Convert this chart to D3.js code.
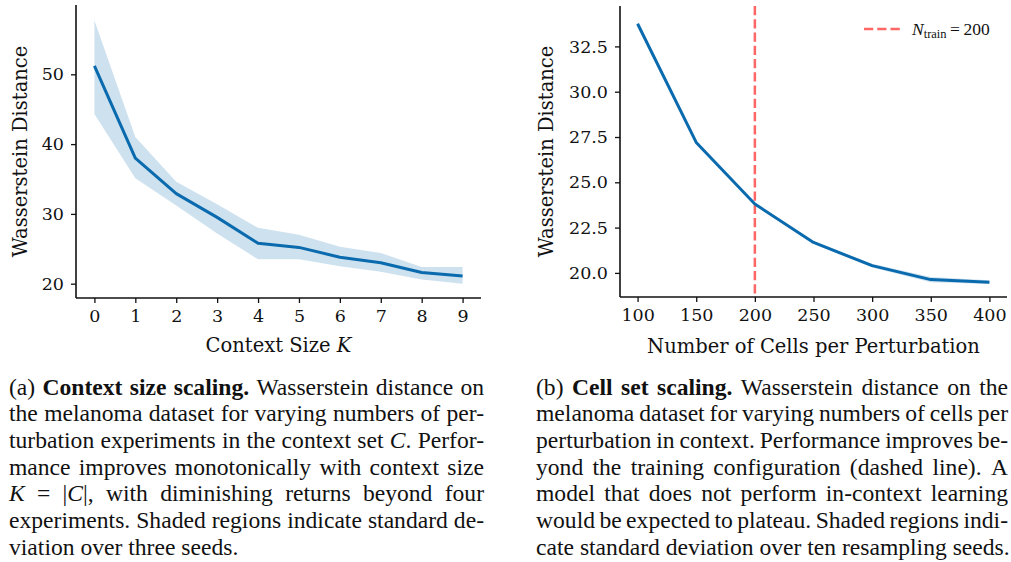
<!DOCTYPE html>
<html>
<head>
<meta charset="utf-8">
<script src="https://cdn.jsdelivr.net/npm/d3@7"></script>
<style>
  html, body { margin: 0; padding: 0; background: #fff; }
  svg { display: block; }
</style>
</head>
<body>
<svg id="chart" width="1011" height="562"></svg>
<script>
// ---------------- DATA ----------------
const contextSizes = [0, 1, 2, 3, 4, 5, 6, 7, 8, 9];
const contextMean  = [51.2, 38.0, 32.9, 29.5, 25.8, 25.2, 23.8, 23.0, 21.6, 21.1];
const contextUpper = [57.7, 41.0, 34.6, 31.4, 28.0, 27.0, 25.3, 24.4, 22.4, 22.4];
const contextLower = [44.3, 35.1, 31.2, 27.2, 23.5, 23.5, 22.5, 21.7, 20.6, 20.0];
const contextYTicks = [20, 30, 40, 50];

const cellCounts = [100, 150, 200, 250, 300, 350, 400];
const cellMean   = [33.75, 27.2, 23.8, 21.68, 20.4, 19.63, 19.49];
const cellStd    = [0.05, 0.05, 0.05, 0.06, 0.10, 0.14, 0.10];
const cellYTicks = [20.0, 22.5, 25.0, 27.5, 30.0, 32.5];
const nTrain = 200;

const captionA = [
  "(a) *Context* *size* *scaling.* Wasserstein distance on",
  "the melanoma dataset for varying numbers of per-",
  "turbation experiments in the context set _C_. Perfor-",
  "mance improves monotonically with context size",
  "_K_ = |_C_|, with diminishing returns beyond four",
  "experiments. Shaded regions indicate standard de-",
  "viation over three seeds."
];
const captionB = [
  "(b) *Cell* *set* *scaling.* Wasserstein distance on the",
  "melanoma dataset for varying numbers of cells per",
  "perturbation in context. Performance improves be-",
  "yond the training configuration (dashed line). A",
  "model that does not perform in-context learning",
  "would be expected to plateau. Shaded regions indi-",
  "cate standard deviation over ten resampling seeds."
];

// ---------------- STYLE ----------------
const lineColor = "#0a6aae";
const axisFont = "'DejaVu Serif', serif";
const capFont = "'Liberation Serif', 'Times New Roman', serif";
const tickFontSize = 17.5;
const labelFontSize = 19.5;

const svg = d3.select("#chart");

function drawPanel(opts) {
  const g = svg.append("g");
  const x = d3.scaleLinear().domain(opts.xDomain).range([opts.left, opts.right]);
  const y = d3.scaleLinear().domain(opts.yDomain).range([opts.bottom, opts.top]);

  const band = d3.area()
    .x((d, i) => x(opts.xs[i]))
    .y0((d, i) => y(opts.lower[i]))
    .y1((d, i) => y(opts.upper[i]));
  g.append("path").datum(opts.xs).attr("d", band)
    .attr("fill", lineColor).attr("fill-opacity", 0.2).attr("stroke", "none");

  if (opts.extra) opts.extra(g, x, y);

  const line = d3.line().x((d, i) => x(opts.xs[i])).y((d, i) => y(opts.mean[i]));
  g.append("path").datum(opts.xs).attr("d", line)
    .attr("fill", "none").attr("stroke", lineColor).attr("stroke-width", 3)
    .attr("stroke-linejoin", "round");

  const xAxis = d3.axisBottom(x).tickValues(opts.xTicks).tickSize(5).tickPadding(7)
    .tickFormat(opts.xFormat || d3.format("d"));
  const gx = g.append("g").attr("transform", `translate(0,${opts.bottom})`).call(xAxis);
  const yAxis = d3.axisLeft(y).tickValues(opts.yTicks).tickSize(5).tickPadding(7)
    .tickFormat(opts.yFormat);
  const gy = g.append("g").attr("transform", `translate(${opts.left},0)`).call(yAxis);

  [gx, gy].forEach(a => {
    a.select(".domain").attr("stroke", "#111").attr("stroke-width", 1.6);
    a.selectAll(".tick line").attr("stroke", "#111").attr("stroke-width", 1.3);
    a.selectAll(".tick text").attr("fill", "#111")
      .style("font-family", axisFont).style("font-size", tickFontSize + "px");
  });
  gx.select(".domain").attr("d", `M${opts.left},0H${opts.right}`);
  gy.select(".domain").attr("d", `M0,${opts.bottom}V${opts.top}`);

  const xl = g.append("text")
    .attr("x", (opts.left + opts.right) / 2 + (opts.xLabelShift || 0))
    .attr("y", opts.xLabelY)
    .attr("text-anchor", "middle")
    .style("font-family", axisFont).style("font-size", labelFontSize + "px")
    .attr("fill", "#111");
  opts.xLabel(xl);

  g.append("text")
    .attr("transform", `translate(${opts.yLabelX},${(opts.top + opts.bottom) / 2}) rotate(-90)`)
    .attr("text-anchor", "middle")
    .style("font-family", axisFont).style("font-size", labelFontSize + "px")
    .attr("fill", "#111")
    .text("Wasserstein Distance");
}

// Panel (a)
drawPanel({
  xs: contextSizes, mean: contextMean, upper: contextUpper, lower: contextLower,
  xDomain: [-0.45, 9.45], yDomain: [17.95, 59.93],
  left: 76, right: 481, top: 5, bottom: 298,
  xTicks: contextSizes, yTicks: contextYTicks, yFormat: d3.format("d"),
  xLabelY: 352, yLabelX: 27,
  xLabel: t => {
    t.append("tspan").text("Context Size ");
    t.append("tspan").style("font-style", "italic").text("K");
  }
});

// Panel (b)
drawPanel({
  xs: cellCounts, mean: cellMean,
  upper: cellMean.map((m, i) => m + cellStd[i]),
  lower: cellMean.map((m, i) => m - cellStd[i]),
  xDomain: [85, 415], yDomain: [18.67, 34.73],
  left: 620, right: 1007, top: 6, bottom: 297,
  xTicks: cellCounts, yTicks: cellYTicks, yFormat: d3.format(".1f"),
  xLabelY: 353, yLabelX: 553,
  xLabel: t => t.text("Number of Cells per Perturbation"),
  extra: (g, x, y) => {
    g.append("line")
      .attr("x1", x(nTrain)).attr("x2", x(nTrain))
      .attr("y1", y.range()[1]).attr("y2", y.range()[0])
      .attr("stroke", "#ff6666").attr("stroke-width", 2.5)
      .attr("stroke-dasharray", "9.25,4");
    const lg = g.append("g");
    lg.append("line").attr("x1", 864).attr("x2", 900).attr("y1", 29).attr("y2", 29)
      .attr("stroke", "#ff6666").attr("stroke-width", 2.5)
      .attr("stroke-dasharray", "9.25,4");
    const lt = lg.append("text").attr("x", 912).attr("y", 35)
      .style("font-family", capFont).style("font-size", "17.5px").attr("fill", "#111");
    lt.append("tspan").style("font-style", "italic").text("N");
    lt.append("tspan").attr("dy", 3).style("font-size", "12.5px").text("train");
    lt.append("tspan").attr("dy", -3).text("\u2009=\u2009" + nTrain);
  }
});

// ---------------- CAPTIONS (justified) ----------------
function parseWord(w) {
  const parts = w.split(/(\*[^*]+\*|_[^_]+_)/).filter(s => s.length);
  return parts.map(p => {
    if (p.startsWith("*") && p.endsWith("*")) return { t: p.slice(1, -1), b: true };
    if (p.startsWith("_") && p.endsWith("_") && p.length > 2) return { t: p.slice(1, -1), i: true };
    return { t: p };
  });
}

function drawCaption(lines, x0, x1, y0, lh, fs) {
  const g = svg.append("g");
  const sp = g.append("text").style("font-family", capFont).style("font-size", fs + "px").text("a a");
  const sp2 = g.append("text").style("font-family", capFont).style("font-size", fs + "px").text("aa");
  const spaceW = sp.node().getComputedTextLength() - sp2.node().getComputedTextLength();
  sp.remove(); sp2.remove();

  lines.forEach((line, li) => {
    const words = line.split(" ").map(parseWord);
    const y = y0 + li * lh;
    const nodes = words.map(segs => {
      const t = g.append("text").attr("y", y)
        .style("font-family", capFont).style("font-size", fs + "px").attr("fill", "#111");
      segs.forEach(s => {
        const ts = t.append("tspan").text(s.t);
        if (s.b) ts.style("font-weight", "bold");
        if (s.i) ts.style("font-style", "italic");
      });
      return t;
    });
    const widths = nodes.map(n => n.node().getComputedTextLength());
    const total = d3.sum(widths);
    const last = li === lines.length - 1;
    const gap = (!last && nodes.length > 1) ? (x1 - x0 - total) / (nodes.length - 1) : spaceW;
    let cx = x0;
    nodes.forEach((n, i) => { n.attr("x", cx); cx += widths[i] + gap; });
  });
}

drawCaption(captionA, 9, 484, 394.5, 26.7, 23.6);
drawCaption(captionB, 536, 1008, 394.5, 26.7, 23.6);
</script>
</body>
</html>
